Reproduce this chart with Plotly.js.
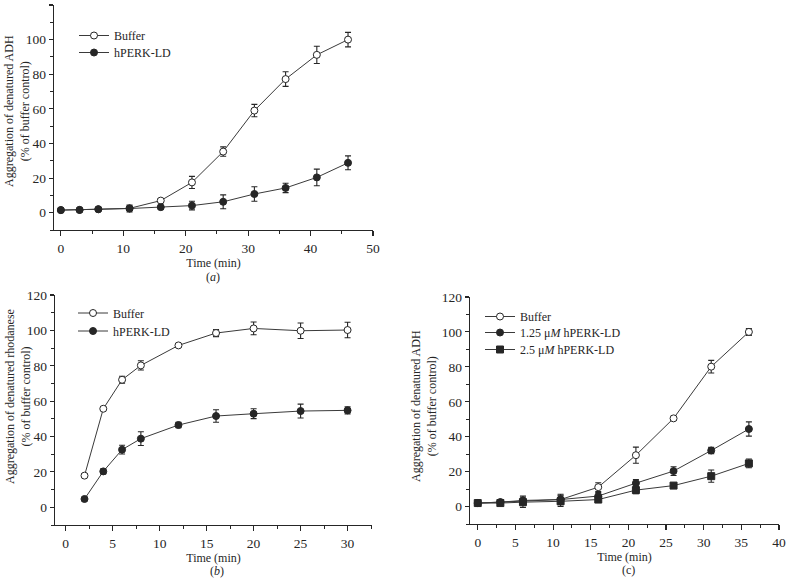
<!DOCTYPE html>
<html>
<head>
<meta charset="utf-8">
<script src="https://cdn.plot.ly/plotly-3.0.1.min.js"></script>
<style>html,body{margin:0;padding:0;background:#fff;}#chart{width:786px;height:578px;}</style>
</head>
<body>
<div id="chart"></div>
<script>
// Panel (a): ADH aggregation
const timeA = [0, 3, 6, 11, 16, 21, 26, 31, 36, 41, 46];
const bufferA = [1.5, 1.6, 2, 2.5, 7, 17.5, 35.3, 59, 77.2, 91.2, 100];
const bufferAErr = [0.5, 0.5, 0.5, 1, 1.2, 3.5, 2.7, 3.6, 4.2, 5, 4.2];
const perkA = [1.5, 1.6, 2, 2.4, 3.2, 4.1, 6.3, 10.8, 14.3, 20.4, 28.8];
const perkAErr = [0.5, 0.5, 0.5, 2, 1, 2.5, 4, 4.2, 2.7, 4.8, 4];

// Panel (b): rhodanese aggregation
const timeB = [2, 4, 6, 8, 12, 16, 20, 25, 30];
const bufferB = [17.9, 55.7, 72.1, 80.2, 91.5, 98.5, 101.1, 99.8, 100.2];
const bufferBErr = [1, 1, 2, 2.6, 1, 2, 3.6, 4.4, 4.4];
const perkB = [4.7, 20.3, 32.6, 38.8, 46.5, 51.6, 52.9, 54.4, 54.8];
const perkBErr = [1, 1.5, 2.5, 3.9, 1.5, 3.5, 2.8, 3.9, 2];

// Panel (c): ADH aggregation, two hPERK-LD concentrations
const timeC = [0, 3, 6, 11, 16, 21, 26, 31, 36];
const bufferC = [2, 2.5, 3, 4, 11.1, 29.4, 50.5, 80.1, 100];
const bufferCErr = [0.5, 1, 1, 3, 2.5, 4.6, 1.2, 3.6, 2];
const perk125C = [2, 2.5, 3.5, 4, 6, 13.4, 20.3, 32.1, 44.4];
const perk125CErr = [0.5, 1.5, 2.5, 2.5, 2, 2, 2.5, 1.8, 4.1];
const perk25C = [2, 2, 2.5, 3, 4, 9.4, 12, 17.4, 24.7];
const perk25CErr = [0.5, 1, 3, 3, 1.5, 2, 1.2, 3.5, 2.5];

const ink = '#262626';
const lineCol = '#3a3a3a';
const font = {family: 'Liberation Serif, Times New Roman, serif', size: 12, color: ink};
const tickFont = {family: 'Liberation Serif, Times New Roman, serif', size: 13.5, color: ink};

function errY(arr) {
  return {type: 'data', array: arr, visible: true, color: ink, thickness: 1.1, width: 3};
}
function tr(x, y, e, name, sym, fill, xa, ya, leg) {
  return {
    x: x, y: y, name: name, type: 'scatter', mode: 'lines+markers',
    xaxis: xa, yaxis: ya, legend: leg,
    line: {color: lineCol, width: 1},
    marker: {symbol: sym, size: 7, color: fill, line: {color: ink, width: 1}},
    error_y: errY(e)
  };
}

const data = [
  tr(timeA, bufferA, bufferAErr, 'Buffer', 'circle', '#ffffff', 'x', 'y', 'legend'),
  tr(timeA, perkA, perkAErr, 'hPERK-LD', 'circle', ink, 'x', 'y', 'legend2'),
  tr(timeB, bufferB, bufferBErr, 'Buffer', 'circle', '#ffffff', 'x2', 'y2', 'legend3'),
  tr(timeB, perkB, perkBErr, 'hPERK-LD', 'circle', ink, 'x2', 'y2', 'legend4'),
  tr(timeC, bufferC, bufferCErr, 'Buffer', 'circle', '#ffffff', 'x3', 'y3', 'legend5'),
  tr(timeC, perk125C, perk125CErr, '1.25 μ<i>M</i> hPERK-LD', 'circle', ink, 'x3', 'y3', 'legend6'),
  tr(timeC, perk25C, perk25CErr, '2.5 μ<i>M</i> hPERK-LD', 'square', ink, 'x3', 'y3', 'legend7')
];

function xax(domain, range, dtick, minor, anchor) {
  return {
    domain: domain, range: range, anchor: anchor, dtick: dtick, tick0: 0,
    showline: true, linecolor: ink, linewidth: 1.3, ticks: 'outside', ticklen: 5,
    tickwidth: 1.1, tickcolor: ink, showgrid: false, zeroline: false,
    tickfont: tickFont,
    minor: {ticks: 'outside', ticklen: 3, dtick: minor, tick0: 0, tickcolor: ink, tickwidth: 1, showgrid: false},
    title: {text: 'Time (min)', font: font, standoff: 3}
  };
}
function yax(domain, anchor) {
  return {
    domain: domain, range: [-10, 120], anchor: anchor, dtick: 20, tick0: 0,
    showline: true, linecolor: ink, linewidth: 1.3, ticks: 'outside', ticklen: 4,
    tickwidth: 1.1, tickcolor: ink, showgrid: false, zeroline: false,
    tickfont: tickFont,
    minor: {ticks: 'outside', ticklen: 3, dtick: 10, tick0: 0, tickcolor: ink, tickwidth: 1, showgrid: false}
  };
}

const W = 786, H = 578;
const px = v => v / W;
const py = v => 1 - v / H;

function leg(x, top) {
  return {font: font, bgcolor: 'rgba(0,0,0,0)', borderwidth: 0, xanchor: 'left', yanchor: 'top', itemwidth: 30, x: px(x), y: py(top)};
}
function ann(text, x, y, extra) {
  return Object.assign({text: text, x: px(x), y: py(y), xref: 'paper', yref: 'paper', showarrow: false, font: font, xanchor: 'center', yanchor: 'middle'}, extra || {});
}

const layout = {
  width: W, height: H,
  margin: {l: 0, r: 0, t: 0, b: 0},
  paper_bgcolor: '#ffffff', plot_bgcolor: '#ffffff',
  font: font,
  showlegend: true,
  xaxis: xax([px(54), px(373)], [-1.1, 50], 10, 5, 'y'),
  yaxis: yax([py(230), py(5)], 'x'),
  xaxis2: xax([px(55), px(372)], [-1.14, 32.6], 5, 2.5, 'y2'),
  yaxis2: yax([py(525), py(295)], 'x2'),
  xaxis3: xax([px(470), px(779)], [-1.03, 40], 5, 2.5, 'y3'),
  yaxis3: yax([py(524), py(297)], 'x3'),
  legend: leg(74, 21),
  legend2: leg(74, 38),
  legend3: leg(73, 298.5),
  legend4: leg(73, 316.5),
  legend5: leg(480, 302),
  legend6: leg(480, 318),
  legend7: leg(480, 335),
  annotations: [
    ann('Aggregation of denatured ADH<br>(% of buffer control)', 17, 111, {textangle: -90}),
    ann('Aggregation of denatured rhodanese<br>(% of buffer control)', 18, 397, {textangle: -90}),
    ann('Aggregation of denatured ADH<br>(% of buffer control)', 424, 406, {textangle: -90}),
    ann('(<i>a</i>)', 213, 277),
    ann('(<i>b</i>)', 217, 571),
    ann('(c)', 628, 570)
  ]
};

Plotly.newPlot('chart', data, layout, {displayModeBar: false, staticPlot: true});
</script>
</body>
</html>
